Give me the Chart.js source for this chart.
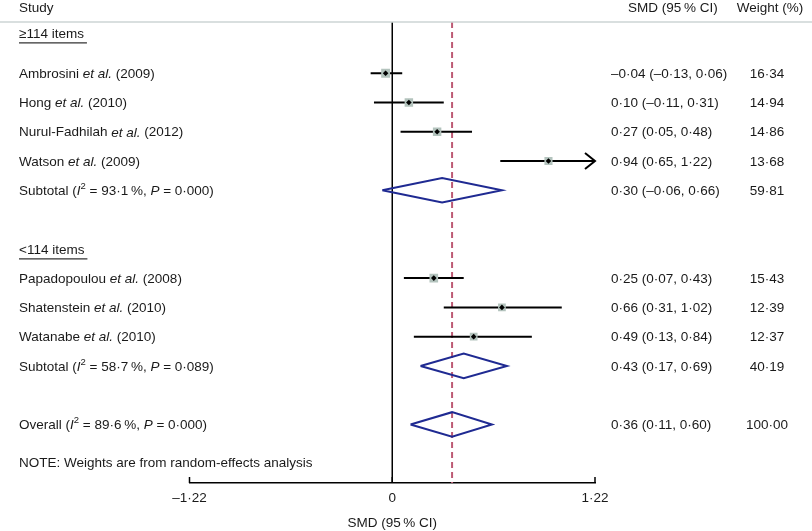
<!DOCTYPE html>
<html>
<head>
<meta charset="utf-8">
<script src="https://cdn.jsdelivr.net/npm/chart.js@4.4.1/dist/chart.umd.min.js"></script>
<style>
  html, body { margin: 0; padding: 0; background: #fff; }
  canvas { display: block; }
</style>
</head>
<body>
<canvas id="forest" width="812" height="531"></canvas>
<script>
// study level data
const studies = ["Ambrosini", "Hong", "Nurul-Fadhilah", "Watson", "Papadopoulou", "Shatenstein", "Watanabe"];
const years = [2009, 2010, 2012, 2009, 2008, 2010, 2010];
const smd = [-0.04, 0.10, 0.27, 0.94, 0.25, 0.66, 0.49];
const ciLow = [-0.13, -0.11, 0.05, 0.65, 0.07, 0.31, 0.13];
const ciHigh = [0.06, 0.31, 0.48, 1.22, 0.43, 1.02, 0.84];
const weights = [16.34, 14.94, 14.86, 13.68, 15.43, 12.39, 12.37];

// subgroups
const groups = ["≥114 items", "<114 items"];
const subSmd = [0.30, 0.43];
const subLow = [-0.06, 0.17];
const subHigh = [0.66, 0.69];
const subWeight = [59.81, 40.19];
const subI2 = [93.1, 58.7];
const subP = [0.000, 0.089];

// overall
const overallSmd = 0.36;
const overallLow = 0.11;
const overallHigh = 0.60;
const overallWeight = 100.00;
const overallI2 = 89.6;
const overallP = 0.000;

const xTicks = [-1.22, 0, 1.22];
const note = "NOTE: Weights are from random-effects analysis";

// row layout (in row units, top to bottom)
const headerRow = -2.25;
const groupRows = [-1.38, 6];
const studyRows = [0, 1, 2, 3, 7, 8, 9];
const subRows = [4, 10];
const overallRow = 12;
const noteRow = 13.3;

const FONT = "Liberation Sans, Arial, sans-serif";
const FS = 13.5;
const TXT = "#1a1a1a";
const NAVY = "#1f2a92";
const DIAM_H = 0.42;

function fmt(v) {
  return (v < 0 ? "–" : "") + Math.abs(v).toFixed(2).replace(".", "·");
}
function fmt1(v) {
  return v.toFixed(1).replace(".", "·");
}
function fmt3(v) {
  return v.toFixed(3).replace(".", "·");
}

function diamond(est, lo, hi, row) {
  return [
    { x: lo, y: row },
    { x: est, y: row - DIAM_H },
    { x: hi, y: row },
    { x: est, y: row + DIAM_H },
    { x: lo, y: row }
  ];
}

const datasets = [];

// black centre points
datasets.push({
  type: "scatter",
  data: smd.map((v, i) => ({ x: v, y: studyRows[i] })),
  pointStyle: "rectRot",
  pointRadius: 2.8,
  backgroundColor: "#000",
  borderColor: "#000",
  borderWidth: 0
});
// weight boxes
datasets.push({
  type: "scatter",
  data: smd.map((v, i) => ({ x: v, y: studyRows[i] })),
  pointStyle: "rect",
  pointRadius: weights.map(w => 1.55 * Math.sqrt(w)),
  backgroundColor: "#b3c3bd",
  borderWidth: 0
});
// confidence intervals
studies.forEach((s, i) => {
  datasets.push({
    type: "line",
    data: [{ x: ciLow[i], y: studyRows[i] }, { x: ciHigh[i], y: studyRows[i] }],
    borderColor: "#000",
    borderWidth: 2,
    pointRadius: 0,
    clip: false
  });
});
// subgroup + overall diamonds
subSmd.forEach((v, g) => {
  datasets.push({
    type: "line",
    data: diamond(v, subLow[g], subHigh[g], subRows[g]),
    borderColor: NAVY,
    borderWidth: 2,
    pointRadius: 0,
    tension: 0,
    clip: false
  });
});
datasets.push({
  type: "line",
  data: diamond(overallSmd, overallLow, overallHigh, overallRow),
  borderColor: NAVY,
  borderWidth: 2,
  pointRadius: 0,
  tension: 0,
  clip: false
});
// overall effect line
datasets.push({
  type: "line",
  data: [{ x: overallSmd, y: -1.75 }, { x: overallSmd, y: 14 }],
  borderColor: "#bd5a74",
  borderWidth: 2,
  borderDash: [6, 4],
  pointRadius: 0
});
// no effect line
datasets.push({
  type: "line",
  data: [{ x: 0, y: -1.75 }, { x: 0, y: 14 }],
  borderColor: "#000",
  borderWidth: 1.5,
  pointRadius: 0
});

function drawRich(ctx, segs, x, y) {
  segs.forEach(s => {
    const size = s.sup ? 9.5 : FS;
    ctx.font = (s.i ? "italic " : "") + size + "px " + FONT;
    ctx.fillText(s.t, x, s.sup ? y - 5 : y);
    x += ctx.measureText(s.t).width;
  });
  return x;
}

function hetSegs(label, i2, p) {
  return [
    { t: label + " (" },
    { t: "I", i: true },
    { t: "2", sup: true },
    { t: " = " + fmt1(i2) + "\u2009%, " },
    { t: "P", i: true },
    { t: " = " + fmt3(p) + ")" }
  ];
}

const textPlugin = {
  id: "forestText",
  afterDraw(chart) {
    const ctx = chart.ctx;
    const yS = chart.scales.y;
    const xS = chart.scales.x;
    const area = chart.chartArea;
    const py = r => yS.getPixelForValue(r) + 1;
    const colSmd = 611;
    const colW = 767;
    ctx.save();
    ctx.fillStyle = TXT;
    ctx.textBaseline = "middle";

    // header
    ctx.textAlign = "left";
    ctx.font = FS + "px " + FONT;
    ctx.fillText("Study", 19, py(headerRow));
    ctx.fillText("SMD (95\u2009% CI)", 628, py(headerRow));
    ctx.textAlign = "center";
    ctx.fillText("Weight (%)", 770, py(headerRow));

    ctx.strokeStyle = "#cdd4d4";
    ctx.lineWidth = 1.5;
    ctx.beginPath();
    ctx.moveTo(0, area.top);
    ctx.lineTo(chart.width, area.top);
    ctx.stroke();

    // group headers, underlined
    ctx.textAlign = "left";
    groups.forEach((g, k) => {
      ctx.font = FS + "px " + FONT;
      const y = py(groupRows[k]);
      ctx.fillText(g, 19, y);
      const w = ctx.measureText(g).width;
      ctx.strokeStyle = "#333";
      ctx.lineWidth = 1.3;
      ctx.beginPath();
      ctx.moveTo(19, y + 9);
      ctx.lineTo(19 + w + 3, y + 9);
      ctx.stroke();
    });

    // studies
    studies.forEach((s, i) => {
      const y = py(studyRows[i]);
      ctx.textAlign = "left";
      drawRich(ctx, [{ t: s + " " }, { t: "et al.", i: true }, { t: " (" + years[i] + ")" }], 19, y);
      ctx.font = FS + "px " + FONT;
      ctx.fillText(fmt(smd[i]) + " (" + fmt(ciLow[i]) + ", " + fmt(ciHigh[i]) + ")", colSmd, y);
      ctx.textAlign = "center";
      ctx.fillText(fmt(weights[i]), colW, y);
    });

    // subtotals
    subSmd.forEach((v, g) => {
      const y = py(subRows[g]);
      ctx.textAlign = "left";
      drawRich(ctx, hetSegs("Subtotal", subI2[g], subP[g]), 19, y);
      ctx.font = FS + "px " + FONT;
      ctx.fillText(fmt(v) + " (" + fmt(subLow[g]) + ", " + fmt(subHigh[g]) + ")", colSmd, y);
      ctx.textAlign = "center";
      ctx.fillText(fmt(subWeight[g]), colW, y);
    });

    // overall
    let y = py(overallRow);
    ctx.textAlign = "left";
    drawRich(ctx, hetSegs("Overall", overallI2, overallP), 19, y);
    ctx.font = FS + "px " + FONT;
    ctx.fillText(fmt(overallSmd) + " (" + fmt(overallLow) + ", " + fmt(overallHigh) + ")", colSmd, y);
    ctx.textAlign = "center";
    ctx.fillText(fmt(overallWeight), colW, y);

    ctx.textAlign = "left";
    ctx.fillText(note, 19, py(noteRow));

    // arrows for truncated intervals
    ctx.strokeStyle = "#000";
    ctx.lineWidth = 2;
    studies.forEach((s, i) => {
      if (ciHigh[i] >= xS.max) {
        const ax = xS.getPixelForValue(xS.max);
        const ay = yS.getPixelForValue(studyRows[i]);
        ctx.beginPath();
        ctx.moveTo(ax - 10, ay - 8);
        ctx.lineTo(ax, ay);
        ctx.lineTo(ax - 10, ay + 8);
        ctx.stroke();
      }
    });

    // inward tick marks
    ctx.lineWidth = 1.5;
    xTicks.forEach(t => {
      const tx = xS.getPixelForValue(t);
      ctx.beginPath();
      ctx.moveTo(tx, area.bottom);
      ctx.lineTo(tx, area.bottom - 6);
      ctx.stroke();
    });
    ctx.restore();
  }
};

new Chart(document.getElementById("forest"), {
  type: "scatter",
  data: { datasets: datasets },
  options: {
    responsive: false,
    devicePixelRatio: 1,
    animation: false,
    layout: { padding: { left: 189.5, right: 217, top: 22, bottom: 0 } },
    plugins: { legend: { display: false }, tooltip: { enabled: false } },
    scales: {
      x: {
        type: "linear",
        min: -1.22,
        max: 1.22,
        afterBuildTicks: s => { s.ticks = xTicks.map(v => ({ value: v })); },
        afterFit: s => { s.height = 48; },
        ticks: {
          callback: v => fmt(v).replace("0·00", "0"),
          font: { family: FONT, size: FS },
          color: TXT,
          padding: 7,
          maxRotation: 0,
          autoSkip: false
        },
        grid: { display: false, drawTicks: false },
        border: { display: true, color: "#000", width: 1.5 },
        title: {
          display: true,
          text: "SMD (95\u2009% CI)",
          font: { family: FONT, size: FS },
          color: TXT,
          padding: 0
        }
      },
      y: {
        type: "linear",
        reverse: true,
        min: -1.75,
        max: 14,
        display: false
      }
    }
  },
  plugins: [textPlugin]
});
</script>
</body>
</html>
